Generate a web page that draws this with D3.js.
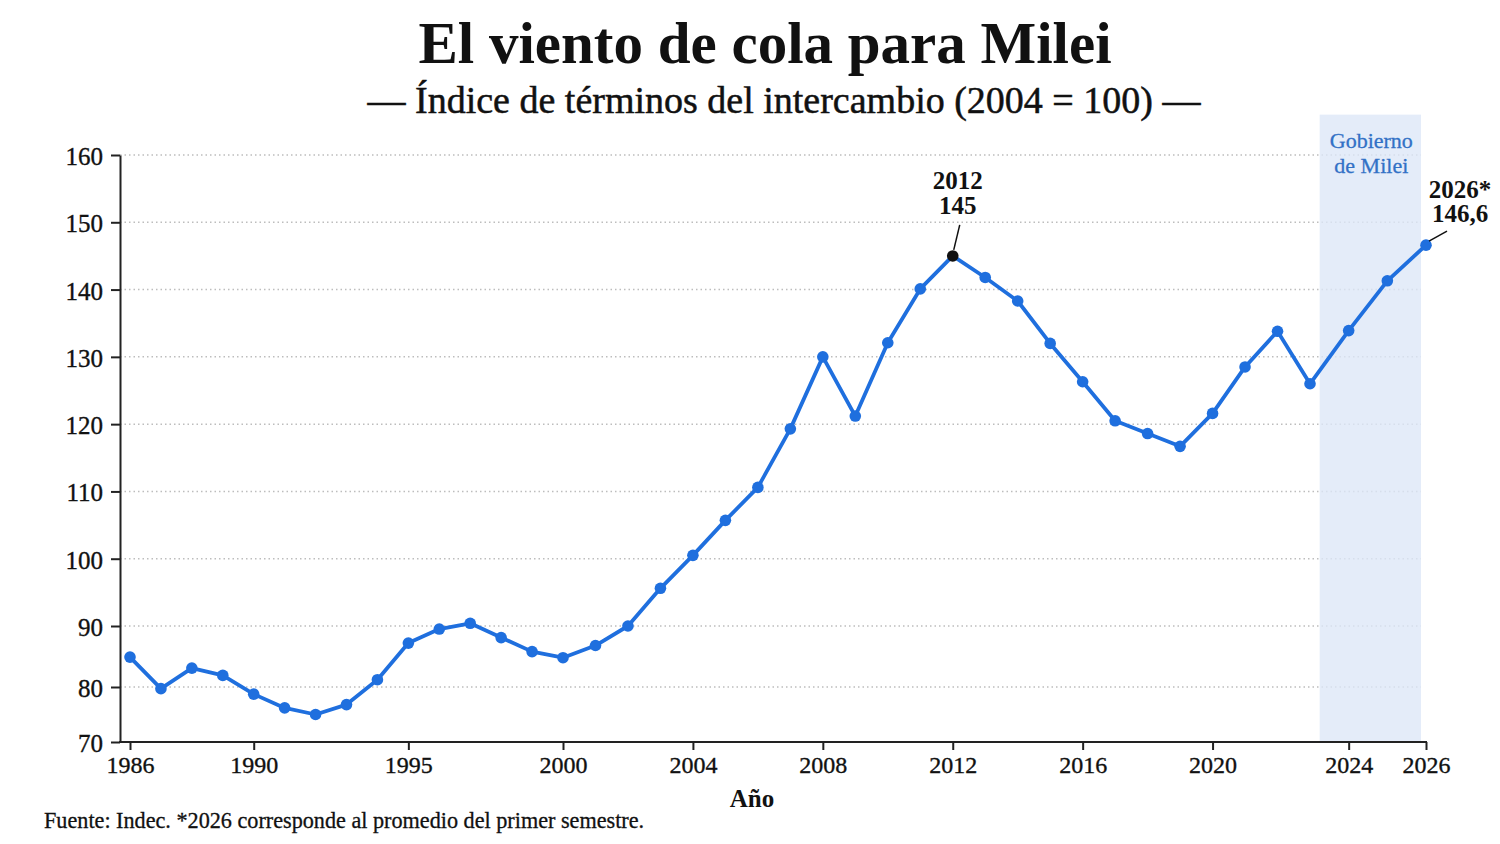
<!DOCTYPE html>
<html lang="es">
<head>
<meta charset="utf-8">
<script src="https://cdn.jsdelivr.net/npm/d3@7"></script>
<style>
  html, body { margin: 0; padding: 0; background: #fff; }
  svg { display: block; font-family: "Liberation Serif", "DejaVu Serif", serif; }
</style>
</head>
<body>
<div id="container"></div>
<script>
const years = [
  1986, 1987, 1988, 1989, 1990, 1991, 1992, 1993, 1994, 1995, 1996, 1997, 1998, 1999,
  2000, 2001, 2002, 2003, 2004, 2005, 2006, 2007, 2008, 2009,
  2010, 2011, 2012, 2013, 2014, 2015, 2016, 2017, 2018, 2019,
  2020, 2021, 2022, 2023, 2024, 2025, 2026,
];
const values = [
  84.9, 79.7, 83.1, 81.9, 78.7, 76.2, 75.0, 76.8, 81.2, 87.2, 89.5, 90.4, 88.1, 85.8,
  84.8, 86.8, 90.0, 95.6, 100.5, 105.7, 110.6, 119.3, 130.0, 121.2,
  132.1, 140.1, 145.0, 141.8, 138.3, 132.0, 126.3, 120.5, 118.6, 116.7,
  121.6, 128.5, 133.8, 126.0, 133.9, 141.3, 146.6,
];
const xTickYears = [1986, 1990, 1995, 2000, 2004, 2008, 2012, 2016, 2020, 2024, 2026];
const yTicks = [70, 80, 90, 100, 110, 120, 130, 140, 150, 160];
const mileiPeriod = [2023.25, 2025.87];
const highlightYears = [2012, 2026];
const highlightNames = ["2012", "2026*"];

const width = 1500;
const height = 844;
const lineColor = "#1f6fde";
const axisColor = "#222";
const ink = "#111";
const serif = '"Liberation Serif", "DejaVu Serif", serif';

// the original axes are not evenly spaced, so both scales use a few breakpoints
const x = d3.scaleLinear()
  .domain([1986, 2000, 2023, 2026])
  .range([130, 563, 1310, 1426]);
const y = d3.scaleLinear()
  .domain([70, 80, 90, 160])
  .range([742, 687, 626, 155]);

const plotLeft = 120;
const plotBottom = y(70);
const comma = d3.formatLocale({ decimal: ",", thousands: ".", grouping: [3], currency: ["$", ""] });
const fmtValue = (v) => (Number.isInteger(v) ? comma.format("d")(v) : comma.format(".1f")(v));

const data = years.map((yr, i) => ({ year: yr, value: values[i] }));

const svg = d3.select("#container")
  .append("svg")
  .attr("width", width)
  .attr("height", height);

// regular weight in the original is a bit heavier than Liberation Serif
const thicken = (sel, w = 0.35) => sel.attr("stroke", ink).attr("stroke-width", w);

// Titles
svg.append("text")
  .attr("x", 765)
  .attr("y", 63)
  .attr("text-anchor", "middle")
  .attr("font-size", "59px")
  .attr("font-weight", "700")
  .attr("fill", ink)
  .text("El viento de cola para Milei");

svg.append("text")
  .attr("x", 784)
  .attr("y", 113)
  .attr("text-anchor", "middle")
  .attr("font-size", "38px")
  .attr("fill", ink)
  .call(thicken, 0.5)
  .text("— Índice de términos del intercambio (2004 = 100) —");

// Gridlines
svg.append("g")
  .selectAll("line.grid")
  .data(yTicks.filter((d) => d > 70))
  .enter()
  .append("line")
  .attr("class", "grid")
  .attr("x1", plotLeft)
  .attr("x2", x(mileiPeriod[1]))
  .attr("y1", (d) => y(d))
  .attr("y2", (d) => y(d))
  .attr("stroke", "#bdbdbd")
  .attr("stroke-width", 1.5)
  .attr("stroke-dasharray", "1.5,3");

// Milei band
svg.append("rect")
  .attr("x", x(mileiPeriod[0]))
  .attr("width", x(mileiPeriod[1]) - x(mileiPeriod[0]))
  .attr("y", y(166))
  .attr("height", plotBottom - y(166))
  .attr("fill", "#dde7f7")
  .attr("fill-opacity", 0.78);

const bandCenter = (x(mileiPeriod[0]) + x(mileiPeriod[1])) / 2 + 1;
svg.append("text")
  .attr("x", bandCenter)
  .attr("y", 148)
  .attr("text-anchor", "middle")
  .attr("font-size", "22px")
  .attr("fill", "#3271c6")
  .attr("stroke", "#3271c6")
  .attr("stroke-width", 0.3)
  .selectAll("tspan")
  .data(["Gobierno", "de Milei"])
  .enter()
  .append("tspan")
  .attr("x", bandCenter)
  .attr("dy", (d, i) => (i === 0 ? 0 : 24.5))
  .text((d) => d);

// Axes
const yAxis = d3.axisLeft(y)
  .tickValues(yTicks)
  .tickSize(9)
  .tickSizeOuter(0)
  .tickPadding(8);

const gy = svg.append("g")
  .attr("transform", `translate(${plotLeft},0)`)
  .call(yAxis);
gy.select(".domain").attr("stroke", axisColor).attr("stroke-width", 2);
gy.selectAll(".tick line").attr("stroke", axisColor).attr("stroke-width", 2);
gy.selectAll(".tick text")
  .attr("font-family", serif)
  .attr("font-size", "25px")
  .attr("fill", ink)
  .attr("dy", "0.38em")
  .call(thicken);

const xAxis = d3.axisBottom(x)
  .tickValues(xTickYears)
  .tickFormat(d3.format("d"))
  .tickSize(8)
  .tickSizeOuter(0)
  .tickPadding(6);

const gx = svg.append("g")
  .attr("transform", `translate(0,${plotBottom})`)
  .call(xAxis);
gx.select(".domain").remove();
gx.append("line")
  .attr("x1", plotLeft - 1)
  .attr("x2", x(2026) + 1)
  .attr("stroke", axisColor)
  .attr("stroke-width", 2);
gx.selectAll(".tick line").attr("stroke", axisColor).attr("stroke-width", 2);
gx.selectAll(".tick text")
  .attr("font-family", serif)
  .attr("font-size", "24px")
  .attr("fill", ink)
  .call(thicken);

svg.append("text")
  .attr("x", 752)
  .attr("y", 807)
  .attr("text-anchor", "middle")
  .attr("font-size", "25px")
  .attr("font-weight", "700")
  .attr("fill", ink)
  .text("Año");

// Series
const line = d3.line()
  .x((d) => x(d.year))
  .y((d) => y(d.value));

svg.append("path")
  .datum(data)
  .attr("fill", "none")
  .attr("stroke", lineColor)
  .attr("stroke-width", 3.8)
  .attr("stroke-linejoin", "round")
  .attr("d", line);

svg.selectAll("circle.pt")
  .data(data)
  .enter()
  .append("circle")
  .attr("class", "pt")
  .attr("cx", (d) => x(d.year))
  .attr("cy", (d) => y(d.value))
  .attr("r", 5.8)
  .attr("fill", (d) => (d.year === 2012 ? ink : lineColor));

// Annotations
const notes = highlightYears.map((yr, i) => {
  const d = data.find((p) => p.year === yr);
  return { ...d, name: highlightNames[i] };
});

const noteLayout = {
  2012: { dx: 5, dy1: -67, dy2: -42, lx1: 7, ly1: -31, lx2: 1, ly2: -6 },
  2026: { dx: 34, dy1: -47, dy2: -23, lx1: 21, ly1: -14, lx2: 3, ly2: -4 },
};

notes.forEach((d) => {
  const px = x(d.year);
  const py = y(d.value);
  const o = noteLayout[d.year];

  svg.append("line")
    .attr("x1", px + o.lx1)
    .attr("y1", py + o.ly1)
    .attr("x2", px + o.lx2)
    .attr("y2", py + o.ly2)
    .attr("stroke", ink)
    .attr("stroke-width", 1.5);

  svg.append("text")
    .attr("x", px + o.dx)
    .attr("y", py + o.dy1)
    .attr("text-anchor", "middle")
    .attr("font-size", "25px")
    .attr("font-weight", "700")
    .attr("fill", ink)
    .text(d.name);

  svg.append("text")
    .attr("x", px + o.dx)
    .attr("y", py + o.dy2)
    .attr("text-anchor", "middle")
    .attr("font-size", "25px")
    .attr("font-weight", "700")
    .attr("fill", ink)
    .text(fmtValue(d.value));
});

// Source
svg.append("text")
  .attr("x", 44)
  .attr("y", 828)
  .attr("font-size", "22.2px")
  .attr("fill", ink)
  .call(thicken, 0.3)
  .text("Fuente: Indec. *2026 corresponde al promedio del primer semestre.");
</script>
</body>
</html>
